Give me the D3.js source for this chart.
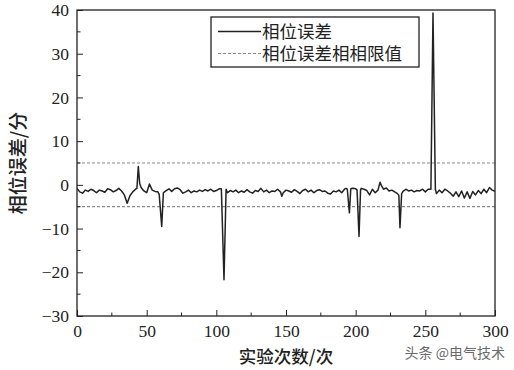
<!DOCTYPE html>
<html>
<head>
<meta charset="utf-8">
<script src="https://cdn.jsdelivr.net/npm/d3@7"></script>
<style>
  html, body { margin: 0; padding: 0; background: #fff; }
  svg { display: block; }
</style>
</head>
<body>
<svg id="chart" width="514" height="370"></svg>
<script>
// ---- data ----
const trialX = [0,2,4,6,8,10,12,14,16,18,20,22,24,26,28,30,32,34,36,38,40,42,43,44,45,46,48,50,52,54,56,58,59,60.8,62,64,66,68,70,72,74,76,78,80,82,84,86,88,90,92,94,96,98,100,102,103.6,105.5,107,108,110,112,114,116,118,120,122,124,126,128,130,132,134,136,138,140,142,144,146,147,148,150,152,154,156,158,160,162,164,166,168,170,172,174,176,178,180,182,184,186,188,190,192,193,194,195.5,196.5,198,200,201,202.4,203.5,204,206,208,210,212,214,216,217.5,218.5,220,222,224,226,228,230,231,231.8,233,234,236,238,240,242,244,246,248,250,252,254,255.5,257.2,258,260,262,264,266,268,270,272,274,276,278,280,282,284,286,288,290,292,294,296,298,300];
const phaseError = [-0.8,-1.6,-1.9,-1.2,-1.5,-1.0,-1.3,-1.8,-1.2,-1.4,-1.7,-0.9,-1.1,-1.6,-1.3,-0.8,-1.4,-2.3,-4.2,-2.5,-1.6,-1.0,-0.8,4.2,0.3,-0.6,-1.4,-1.8,0.2,-1.2,-1.5,-1.6,-2.2,-9.5,-1.8,-1.3,-0.9,-1.5,-0.9,-0.7,-1.1,-1.9,-1.6,-1.2,-1.8,-1.4,-1.6,-1.2,-1.5,-1.1,-1.4,-1.0,-1.5,-1.3,-0.9,-0.9,-21.7,-1.0,-1.8,-1.3,-1.6,-1.2,-1.8,-1.4,-1.7,-1.1,-1.6,-1.9,-1.3,-1.5,-0.8,-1.6,-1.2,-1.8,-1.4,-1.5,-1.0,-1.6,-2.6,-1.8,-1.2,-1.4,-1.7,-1.1,-1.5,-2.0,-1.3,-1.0,-1.6,-1.2,-1.8,-1.3,-1.1,-1.5,-1.4,-1.9,-2.1,-1.4,-1.6,-1.2,-1.8,-1.0,-0.8,-1.0,-6.4,-0.9,-0.8,-0.9,-1.2,-11.8,-1.2,-0.8,-1.0,-1.3,-2.3,-1.0,-1.8,-1.2,0.6,-0.2,-1.0,-0.7,-1.4,-1.2,-1.6,-2.0,-2.4,-9.8,-2.0,-1.5,-1.0,-1.4,-1.2,-1.6,-1.3,-1.4,-1.0,-1.6,-1.0,-1.0,39.3,-1.0,-2.0,-1.2,-1.8,-1.0,-1.4,-1.9,-2.6,-1.6,-2.7,-1.4,-3.0,-1.6,-3.1,-1.5,-2.3,-1.3,-2.0,-1.0,-1.8,-0.6,-1.2,-1.5];
const limitValues = [5, -5];
const xTicks = [0,50,100,150,200,250,300];
const xMinorTicks = [25,75,125,175,225,275];
const yTicks = [-30,-20,-10,0,10,20,30,40];
const yMinorTicks = [-25,-15,-5,5,15,25,35];
const legendLabels = ["相位误差", "相位误差相相限值"];
const xTitle = "实验次数/次";
const yTitle = "相位误差/分";
const watermark = "头条 @电气技术";

// ---- layout ----
const W = 514, H = 370;
const m = {left: 77, top: 10, right: 19, bottom: 54};
const iw = W - m.left - m.right, ih = H - m.top - m.bottom;

const svg = d3.select("#chart");
const x = d3.scaleLinear().domain([0, 300]).range([m.left, m.left + iw]);
const y = d3.scaleLinear().domain([-30, 40]).range([m.top + ih, m.top]);

const numFont = "'Liberation Serif','Times New Roman',serif";
const cjkFont = "'Noto Sans CJK SC','Liberation Serif',serif";

// clip
svg.append("clipPath").attr("id", "clip").append("rect")
  .attr("x", m.left).attr("y", m.top).attr("width", iw).attr("height", ih);

// limit lines
svg.append("g").selectAll("line").data(limitValues).join("line")
  .attr("x1", x(0)).attr("x2", x(300))
  .attr("y1", d => y(d)).attr("y2", d => y(d))
  .attr("stroke", "#8a8a8a").attr("stroke-width", 1.2)
  .attr("stroke-dasharray", "3,2");

// data line
const pts = trialX.map((v, i) => [v, phaseError[i]]);
svg.append("path").datum(pts)
  .attr("clip-path", "url(#clip)")
  .attr("fill", "none").attr("stroke", "#222").attr("stroke-width", 1.5)
  .attr("stroke-linejoin", "round")
  .attr("d", d3.line().x(d => x(d[0])).y(d => y(d[1])));

// axes (inward ticks)
const fmt = d => d < 0 ? "\u2212" + Math.abs(d) : String(d);
const gx = svg.append("g").attr("transform", `translate(0,${m.top + ih})`)
  .call(d3.axisBottom(x).tickValues(xTicks).tickSizeInner(-6).tickSizeOuter(0).tickPadding(9).tickFormat(fmt));
gx.append("g").selectAll("line").data(xMinorTicks).join("line")
  .attr("x1", d => x(d)).attr("x2", d => x(d)).attr("y1", 0).attr("y2", -3.5)
  .attr("stroke", "#222");
const gy = svg.append("g").attr("transform", `translate(${m.left},0)`)
  .call(d3.axisLeft(y).tickValues(yTicks).tickSizeInner(-6).tickSizeOuter(0).tickPadding(8).tickFormat(fmt));
gy.append("g").selectAll("line").data(yMinorTicks).join("line")
  .attr("y1", d => y(d)).attr("y2", d => y(d)).attr("x1", 0).attr("x2", 3.5)
  .attr("stroke", "#222");
[gx, gy].forEach(g => {
  g.select(".domain").remove();
  g.selectAll(".tick line").attr("stroke", "#222");
  g.selectAll("text").attr("font-family", numFont).attr("font-size", 17.5).attr("fill", "#222");
});

// frame
svg.append("rect").attr("x", m.left).attr("y", m.top).attr("width", iw).attr("height", ih)
  .attr("fill", "none").attr("stroke", "#222").attr("stroke-width", 1.3);

// titles
svg.append("text").attr("x", x(150)).attr("y", 363).attr("text-anchor", "middle")
  .attr("font-family", cjkFont).attr("font-size", 17.5).attr("font-weight", 500).attr("fill", "#222")
  .text(xTitle);
svg.append("text").attr("transform", `translate(25,${y(5)}) rotate(-90)`).attr("text-anchor", "middle")
  .attr("font-family", cjkFont).attr("font-size", 19).attr("font-weight", 500).attr("fill", "#222")
  .text(yTitle);

// legend
const lg = svg.append("g");
lg.append("rect").attr("x", 211).attr("y", 17).attr("width", 208).attr("height", 50)
  .attr("fill", "#fff").attr("stroke", "#222").attr("stroke-width", 1.3);
lg.append("line").attr("x1", 218).attr("x2", 261).attr("y1", 31.5).attr("y2", 31.5)
  .attr("stroke", "#222").attr("stroke-width", 1.4);
lg.append("line").attr("x1", 218).attr("x2", 261).attr("y1", 53.5).attr("y2", 53.5)
  .attr("stroke", "#8a8a8a").attr("stroke-width", 1.2).attr("stroke-dasharray", "3,2");
lg.selectAll("text").data(legendLabels).join("text")
  .attr("x", 262).attr("y", (d, i) => 38 + i * 22)
  .attr("font-family", "'Liberation Serif','Noto Sans CJK SC',serif").attr("font-size", 17.5).attr("fill", "#222")
  .text(d => d);

// watermark
svg.append("text").attr("x", 505).attr("y", 358).attr("text-anchor", "end")
  .attr("font-family", cjkFont).attr("font-size", 14).attr("fill", "#6a6a6a")
  .text(watermark);
</script>
</body>
</html>
